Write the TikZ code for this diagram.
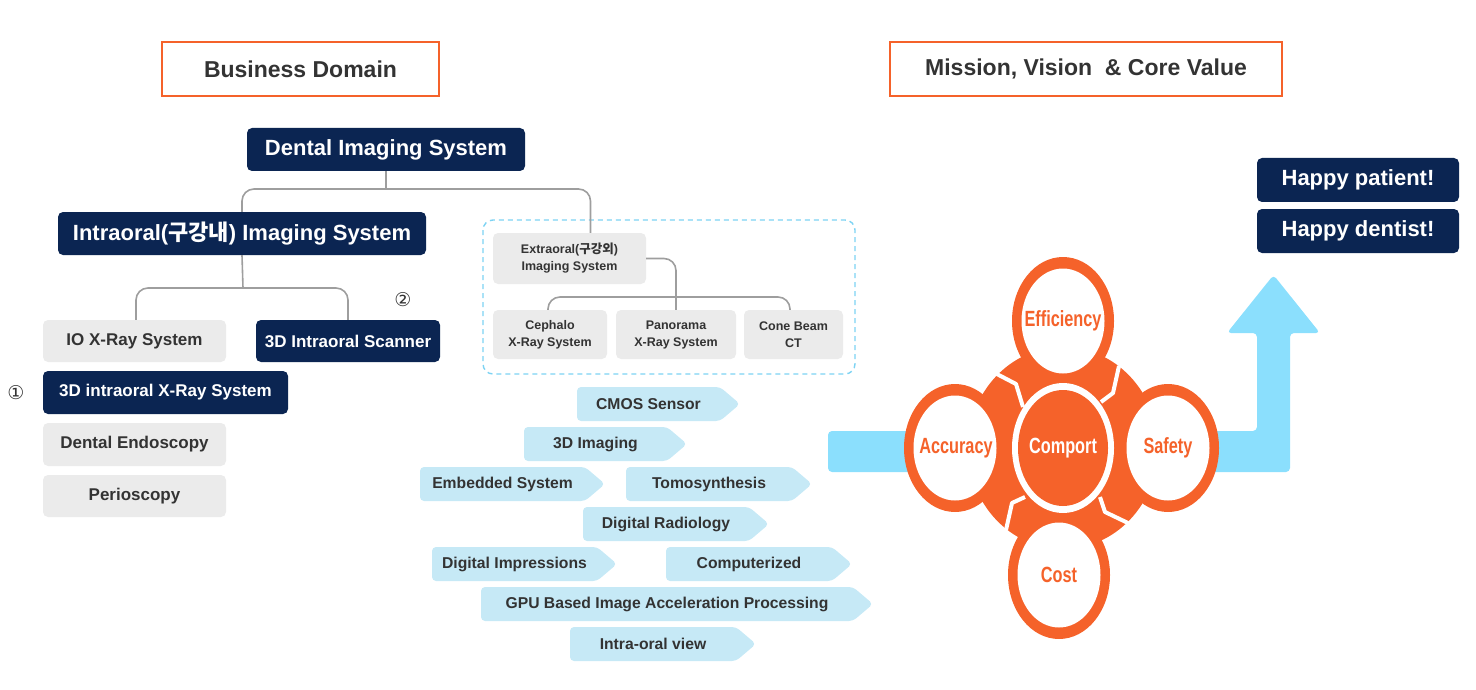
\documentclass[tikz,border=0pt]{standalone}
\usepackage{fontspec}
\setmainfont{Liberation Sans}
\newfontfamily\kr{Noto Sans CJK KR}
\newfontfamily\symb{DejaVu Sans}
\newfontfamily\cond[FakeStretch=0.74]{Liberation Sans}
\usetikzlibrary{positioning,calc}

\definecolor{navy}{RGB}{11,37,82}
\definecolor{boxgray}{RGB}{235,235,235}
\definecolor{ink}{RGB}{51,51,51}
\definecolor{linegray}{RGB}{158,158,158}
\definecolor{mainorange}{RGB}{245,98,42}
\definecolor{tagblue}{RGB}{198,233,246}
\definecolor{skyblue}{RGB}{139,223,253}
\definecolor{dashblue}{RGB}{125,211,243}

\tikzset{
  box/.style={rounded corners=5pt, minimum height=43, inner sep=0pt, align=center,
    font=\bfseries\fontsize{17}{20}\selectfont},
  navybox/.style={box, fill=navy, text=white},
  graybox/.style={box, fill=boxgray, text=ink},
  bigfont/.style={font=\bfseries\fontsize{22}{26}\selectfont},
  smallfont/.style={font=\bfseries\fontsize{12.5}{17}\selectfont},
  conn/.style={draw=linegray, line width=1.6pt, rounded corners=12pt},
  titlebox/.style={draw=mainorange, line width=1.8pt, minimum height=54, text=ink,
    font=\bfseries\fontsize{23}{27}\selectfont},
  tagtext/.style={text=ink, font=\bfseries\fontsize{15.7}{18}\selectfont},
  ringtext/.style={text=mainorange, font=\cond\bfseries\fontsize{22}{25}\selectfont},
  marknum/.style={text=ink, font=\symb\fontsize{19}{19}\selectfont},
}

\begin{document}
\begin{tikzpicture}[x=1pt,y=-1pt]
  \useasboundingbox (0,0) rectangle (1476,690);

  % titles
  \node[titlebox, minimum width=277] (bdom) at (300.5,69) {Business Domain};
  \node[titlebox, minimum width=392] (mvcv) at (1086,69) {Mission, Vision \ \& Core Value};

  % intraoral tree
  \node[navybox, bigfont, minimum width=278] (dis) at (386,149.5) {Dental Imaging System};
  \node[navybox, bigfont, minimum width=368] (ino) at (242,233.5) {Intraoral({\kr 구강내}) Imaging System};
  \node[graybox, minimum width=183, minimum height=42] (iox) at (134.5,341) {IO X-Ray System};
  \node[navybox, minimum width=184, minimum height=42] (scn) at (348,341) {3D Intraoral Scanner};
  \node[navybox, minimum width=245] (ixr) at (165.5,392.5) {3D intraoral X-Ray System};
  \node[graybox, minimum width=183] (den) at (134.5,444.5) {Dental Endoscopy};
  \node[graybox, minimum width=183, minimum height=42] (per) at (134.5,496) {Perioscopy};
  \node[marknum] (one) at (16,393) {①};
  \node[marknum] (two) at (403,300) {②};

  % extraoral group
  \draw[dashblue, line width=1.4pt, dash pattern=on 5pt off 4pt, rounded corners=10pt]
    (483,220) rectangle (855,374);
  \node[graybox, smallfont, minimum width=153, minimum height=51] (ext) at (569.5,258.5)
    {Extraoral({\kr 구강외})\\Imaging System};
  \node[graybox, smallfont, minimum width=114, minimum height=49] (cep) at (550,334.5) {Cephalo\\X-Ray System};
  \node[graybox, smallfont, minimum width=120, minimum height=49] (pan) at (676,334.5) {Panorama\\X-Ray System};
  \node[graybox, smallfont, minimum width=99, minimum height=49] (cbc) at (793.5,334.5) {Cone Beam\\CT};

  % connectors
  \coordinate (bar1) at (386,189);
  \coordinate (bar2) at (243,288);
  \coordinate (bar3) at (677,297);
  \draw[conn] (dis.south) -- (bar1);
  \draw[conn] (ino.north) |- (bar1) -| ([xshift=21pt]ext.north);
  \draw[conn] (ino.south) -- (bar2);
  \draw[conn] ([xshift=1.5pt]iox.north) |- (bar2) -| (scn.north);
  \draw[conn] (ext.east) -| (pan.north);
  \draw[conn] ([xshift=-2pt]cep.north) |- (bar3) -| ([xshift=-3.5pt]cbc.north);

  % technology tags
  \foreach \nm/\xa/\xb/\ya/\txt in {
      cmos/577/740/387/CMOS Sensor,
      thd/524/687/427/3D Imaging,
      emb/420/605/467/Embedded System,
      tomo/626/812/467/Tomosynthesis,
      drad/583/769/507/Digital Radiology,
      dimp/432/617/547/Digital Impressions,
      comp/666/852/547/Computerized,
      gpu/481/873/587/GPU Based Image Acceleration Processing,
      iov/570/756/627/Intra-oral view}
  {
    \fill[tagblue, rounded corners=4pt] (\xa,\ya) -- (\xb-20,\ya) -- (\xb,\ya+17)
      -- (\xb-20,\ya+34) -- (\xa,\ya+34) -- cycle;
    \node[tagtext] (\nm) at ({(\xa+\xb-20)/2},\ya+17) {\txt};
  }

  % arrow to happy
  \fill[skyblue, rounded corners=4pt] (828,431) -- (1257,431) -- (1257,333) -- (1227,333)
    -- (1273.5,275) -- (1320,333) -- (1290,333) -- (1290,472) -- (828,472) -- cycle;
  \node[navybox, bigfont, minimum width=202, minimum height=44] (hp1) at (1358,180) {Happy patient!};
  \node[navybox, bigfont, minimum width=202, minimum height=44] (hp2) at (1358,231) {Happy dentist!};

  % core values
  \fill[mainorange] (1063,448) ellipse [x radius=95, y radius=101];
  \draw[white, line width=4pt, line join=round] (1023,407) -- (1016,384) -- (993,372);
  \draw[white, line width=4pt, line join=round] (1101,402) -- (1113,393) -- (1119,366);
  \draw[white, line width=4pt, line join=round] (1025,497) -- (1012,503) -- (1006,530);
  \draw[white, line width=4pt, line join=round] (1100,497) -- (1105,512) -- (1128,523);
  \foreach \cx/\cy in {1063/321, 955/448, 1168/448, 1059/575}
  {
    \fill[mainorange] (\cx,\cy) ellipse [x radius=51, y radius=64];
    \fill[white] (\cx,\cy) ellipse [x radius=41.5, y radius=52.5];
  }
  \fill[white] (1063,448) ellipse [x radius=51, y radius=65];
  \fill[mainorange] (1063,448) ellipse [x radius=45, y radius=58];
  \node[ringtext] (eff) at (1063,321) {Efficiency};
  \node[ringtext] (acc) at (956,448) {Accuracy};
  \node[ringtext] (saf) at (1168,448) {Safety};
  \node[ringtext] (cost) at (1059,575) {Cost};
  \node[ringtext, text=white] (cmf) at (1063,448) {Comport};
\end{tikzpicture}
\end{document}
